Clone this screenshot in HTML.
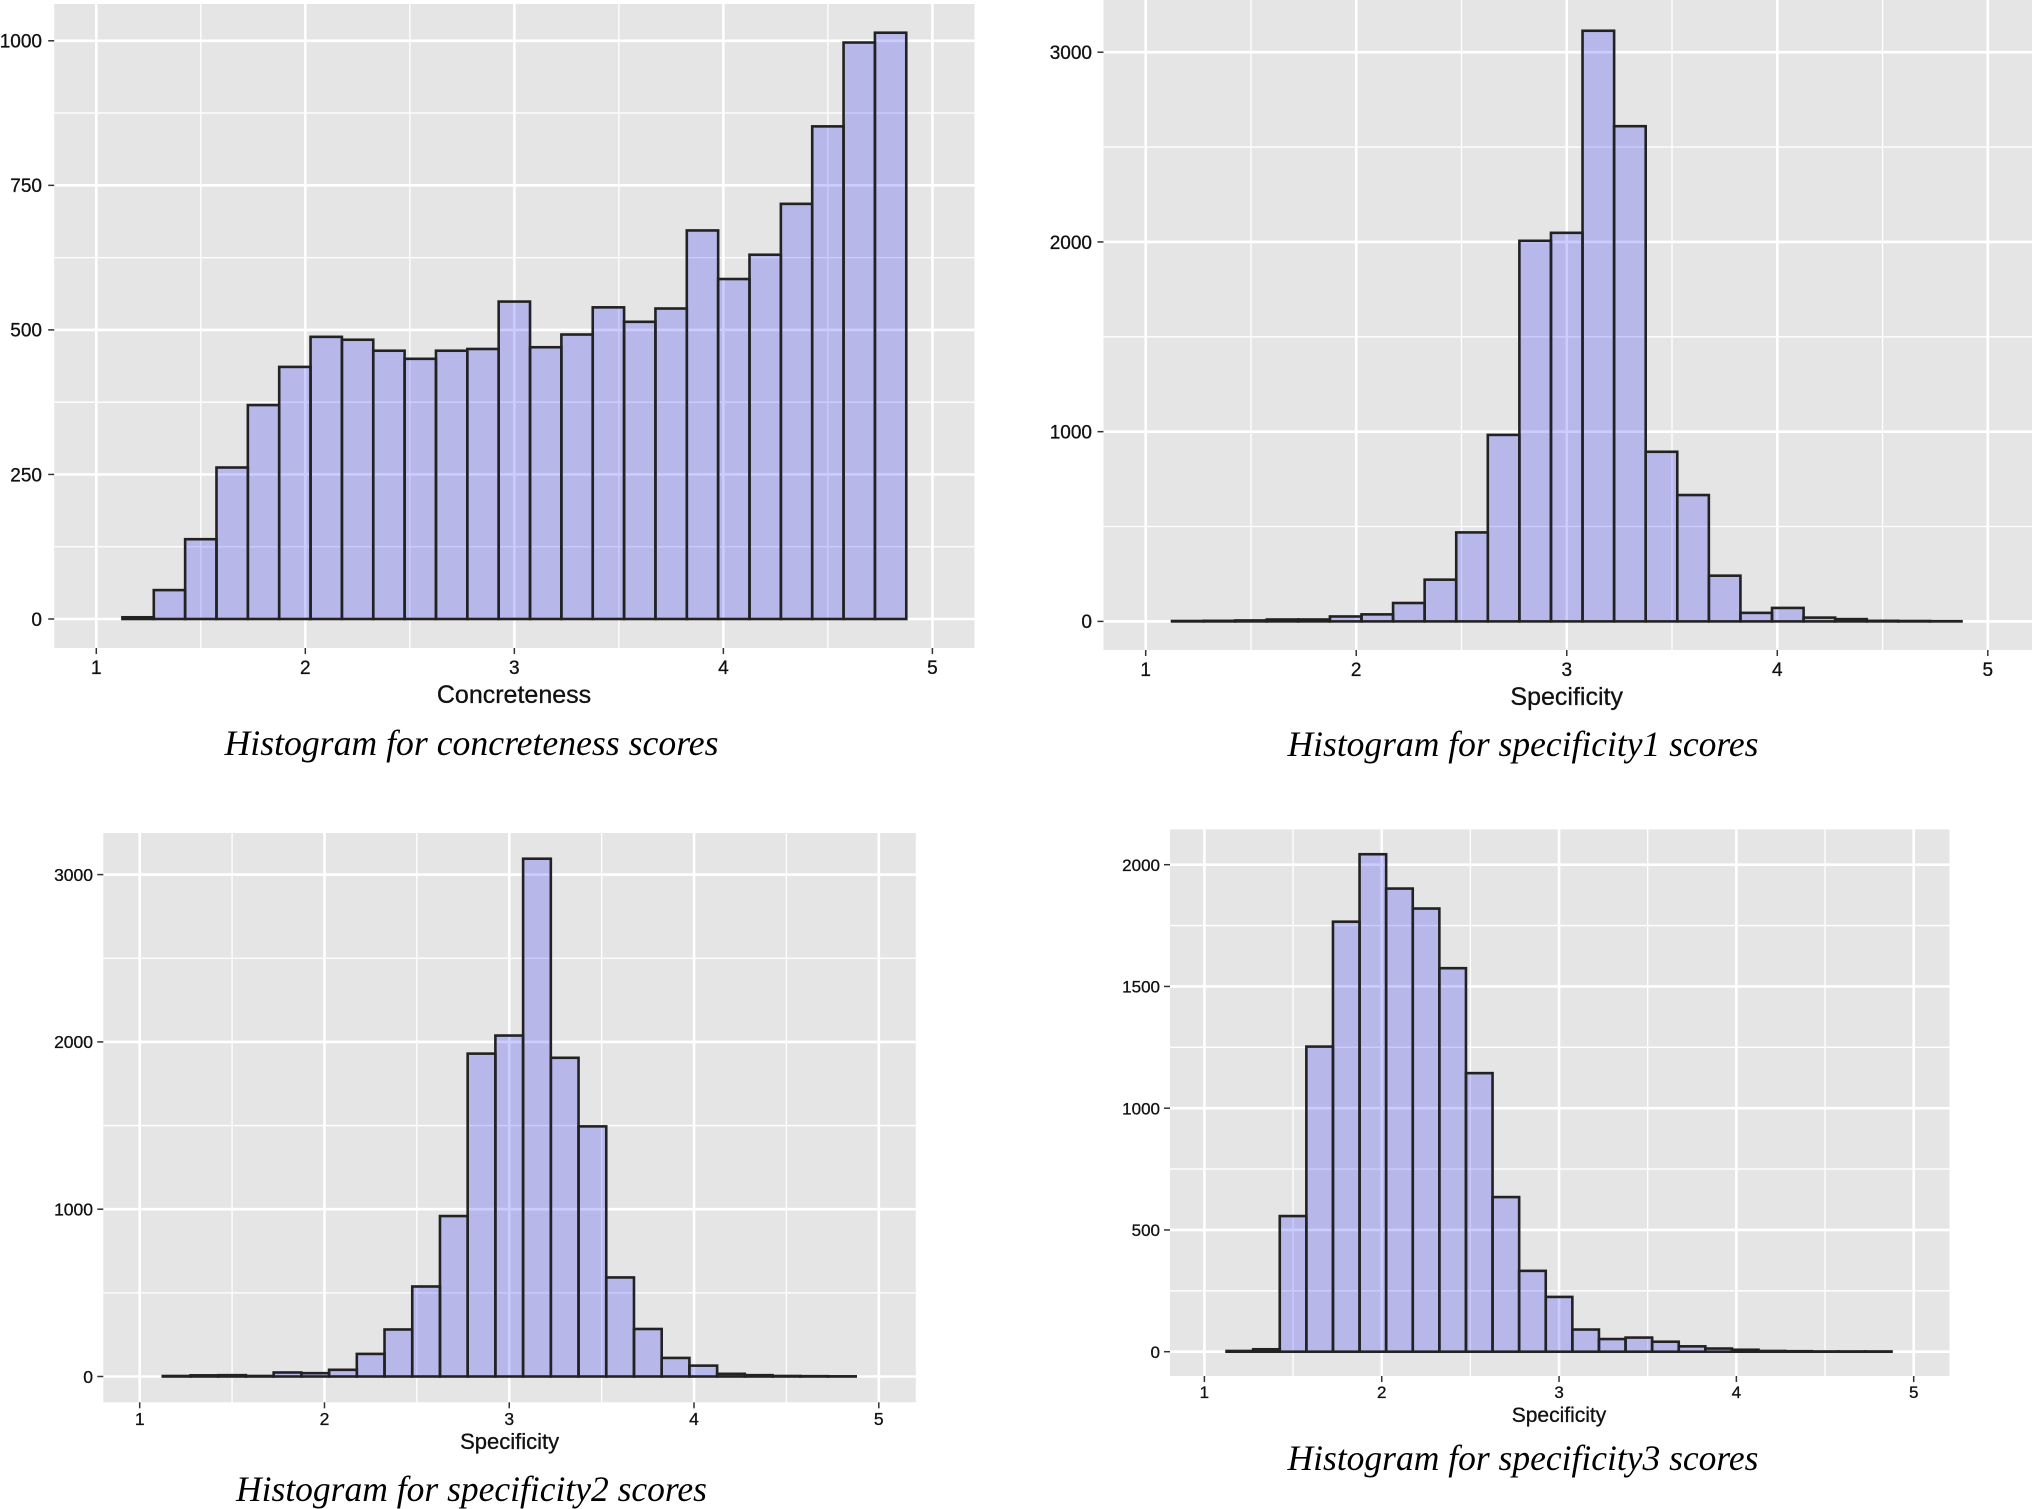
<!DOCTYPE html>
<html lang="en">
<head>
<meta charset="utf-8">
<title>Histograms for concreteness and specificity scores</title>
<style>
html,body{margin:0;padding:0;background:#fff;}
svg{display:block;}
text{font-family:"Liberation Sans",sans-serif;fill:#111;stroke:#111;stroke-width:0.3px;}
.caption{font-family:"Liberation Serif",serif;font-style:italic;font-size:36px;fill:#000;stroke:none;}
</style>
</head>
<body>
<svg id="figure" xmlns="http://www.w3.org/2000/svg" width="2032" height="1509" viewBox="0 0 2032 1509">
  <rect width="2032" height="1509" fill="#fff"/>

  <g id="chart-concreteness"></g>
  <text x="514" y="703" text-anchor="middle" font-size="25">Concreteness</text>
  <text class="caption" x="224.5" y="755" textLength="494" lengthAdjust="spacingAndGlyphs">Histogram for concreteness scores</text>

  <g id="chart-specificity1"></g>
  <text x="1566.7" y="705" text-anchor="middle" font-size="25">Specificity</text>
  <text class="caption" x="1287.5" y="756" textLength="471" lengthAdjust="spacingAndGlyphs">Histogram for specificity1 scores</text>

  <g id="chart-specificity2"></g>
  <text x="509.6" y="1449" text-anchor="middle" font-size="22">Specificity</text>
  <text class="caption" x="236" y="1501" textLength="471" lengthAdjust="spacingAndGlyphs">Histogram for specificity2 scores</text>

  <g id="chart-specificity3"></g>
  <text x="1559" y="1422" text-anchor="middle" font-size="21">Specificity</text>
  <text class="caption" x="1287.5" y="1470" textLength="471" lengthAdjust="spacingAndGlyphs">Histogram for specificity3 scores</text>
</svg>
<script>
// Histogram data: 25 bins of width 0.15 starting at 1.125
var binStart = 1.125;
var binWidth = 0.15;

var concretenessCounts = [3, 50, 138, 262, 370, 436, 488, 483, 464, 450, 464, 467, 549, 470, 492, 539, 514, 537, 672, 588, 630, 718, 852, 997, 1014];
var specificity1Counts = [2, 3, 5, 10, 10, 26, 37, 97, 220, 469, 983, 2006, 2048, 3113, 2610, 894, 666, 241, 45, 71, 20, 12, 3, 2, 1];
var specificity2Counts = [3, 7, 8, 3, 24, 20, 40, 135, 281, 538, 959, 1930, 2038, 3095, 1905, 1495, 592, 284, 111, 65, 16, 8, 3, 2, 1];
var specificity3Counts = [3, 10, 557, 1253, 1766, 2043, 1902, 1820, 1575, 1144, 635, 332, 225, 91, 52, 58, 41, 22, 13, 8, 3, 2, 1, 1, 1];

var xTickLabels = [1, 2, 3, 4, 5];
var concretenessYTicks = [0, 250, 500, 750, 1000];
var specificity1YTicks = [0, 1000, 2000, 3000];
var specificity2YTicks = [0, 1000, 2000, 3000];
var specificity3YTicks = [0, 500, 1000, 1500, 2000];

var SVG_NS = 'http://www.w3.org/2000/svg';

function shape(parent, tag, attrs) {
  var el = document.createElementNS(SVG_NS, tag);
  for (var key in attrs) { el.setAttribute(key, attrs[key]); }
  parent.appendChild(el);
  return el;
}

function drawHistogram(groupId, prefix, counts, yTicks, box) {
  var group = document.getElementById(groupId);

  // Axis functions
  var xUnit = (box.x5 - box.x1) / 4;
  var yUnit = (box.y0 - box.yTop) / yTicks[yTicks.length - 1];
  function xScale(v) { return box.x1 + (v - 1) * xUnit; }
  function yScale(v) { return box.y0 - v * yUnit; }

  var panel = shape(group, 'rect', { x: box.left, y: box.top, width: box.right - box.left, height: box.bottom - box.top, fill: '#e5e5e5' });
  
  

  // Minor grid lines halfway between major ticks
  var yStep = yTicks[1] - yTicks[0];
  yTicks.forEach(function (t) {
    var yMinor = yScale(t + yStep / 2);
    if (yMinor <= box.top) { return; }
    var hMinor = shape(group, 'line', { x1: box.left, x2: box.right, y1: yMinor, y2: yMinor, stroke: '#fff', 'stroke-width': 1.3 });
    
    
  });
  xTickLabels.slice(0, -1).forEach(function (t) {
    var xMinor = xScale(t + 0.5);
    var vMinor = shape(group, 'line', { x1: xMinor, x2: xMinor, y1: box.top, y2: box.bottom, stroke: '#fff', 'stroke-width': 1.3 });
    
    
  });

  // Major grid lines
  yTicks.forEach(function (t) {
    var yMajor = yScale(t);
    var hMajor = shape(group, 'line', { x1: box.left, x2: box.right, y1: yMajor, y2: yMajor, stroke: '#fff', 'stroke-width': 2.6 });
    
    
  });
  xTickLabels.forEach(function (t) {
    var xMajor = xScale(t);
    var vMajor = shape(group, 'line', { x1: xMajor, x2: xMajor, y1: box.top, y2: box.bottom, stroke: '#fff', 'stroke-width': 2.6 });
    
    
  });

  // Bars
  counts.forEach(function (count, i) {
    var x0 = xScale(binStart + i * binWidth);
    var x1 = xScale(binStart + (i + 1) * binWidth);
    var barTop = yScale(count);
    var bar = shape(group, 'rect', { x: x0, y: barTop, width: x1 - x0, height: box.y0 - barTop, fill: 'rgba(0,0,255,0.2)', stroke: '#222', 'stroke-width': 2.6 });
    
    
  });

  // X axis ticks and labels
  xTickLabels.forEach(function (t) {
    var xPos = xScale(t);
    var xTick = shape(group, 'line', { x1: xPos, x2: xPos, y1: box.bottom, y2: box.bottom + 6, stroke: '#333', 'stroke-width': 1.5 });
    
    
    var xLabel = shape(group, 'text', { x: xPos, y: box.xLabelY, 'text-anchor': 'middle', 'font-size': box.fontSize });
    
    
    xLabel.textContent = t;
  });

  // Y axis ticks and labels
  yTicks.forEach(function (t) {
    var yPos = yScale(t);
    var yTick = shape(group, 'line', { x1: box.left - 6, x2: box.left, y1: yPos, y2: yPos, stroke: '#333', 'stroke-width': 1.5 });
    
    
    var yLabel = shape(group, 'text', { x: box.yLabelX, y: yPos + box.fontSize * 0.36, 'text-anchor': 'end', 'font-size': box.fontSize });
    
    
    yLabel.textContent = t;
  });
}

drawHistogram('chart-concreteness', 'concreteness', concretenessCounts, concretenessYTicks,
  { left: 54.2, right: 974.5, top: 4, bottom: 648, x1: 96.3, x5: 932.4, y0: 619, yTop: 40.8, xLabelY: 674, yLabelX: 42, fontSize: 19 });
drawHistogram('chart-specificity1', 'specificity1', specificity1Counts, specificity1YTicks,
  { left: 1103.5, right: 2032, top: 0, bottom: 650, x1: 1145.7, x5: 1987.8, y0: 621.4, yTop: 52.2, xLabelY: 676, yLabelX: 1092, fontSize: 19 });
drawHistogram('chart-specificity2', 'specificity2', specificity2Counts, specificity2YTicks,
  { left: 103.3, right: 915.8, top: 833, bottom: 1402.3, x1: 139.7, x5: 878.8, y0: 1376.5, yTop: 874.6, xLabelY: 1425, yLabelX: 93, fontSize: 17.5 });
drawHistogram('chart-specificity3', 'specificity3', specificity3Counts, specificity3YTicks,
  { left: 1170, right: 1949.5, top: 829.4, bottom: 1376, x1: 1204.4, x5: 1913.7, y0: 1351.7, yTop: 864.7, xLabelY: 1398, yLabelX: 1160, fontSize: 17 });
</script>
</body>
</html>
